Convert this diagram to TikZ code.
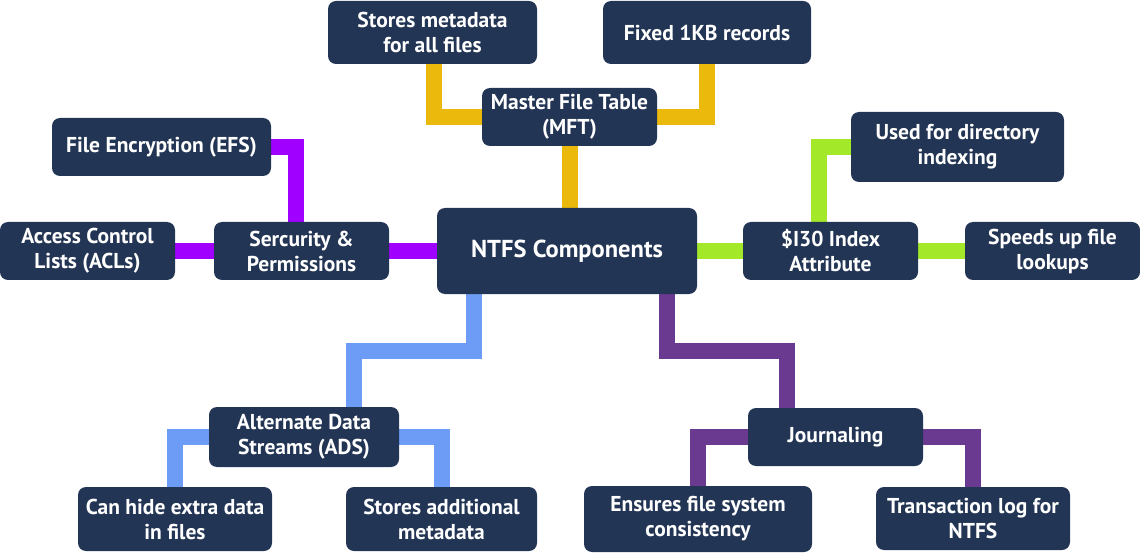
\documentclass[tikz,border=0pt]{standalone}
\usepackage{fontspec}
\setmainfont{PT Sans}
\usetikzlibrary{backgrounds}
\definecolor{navy}{HTML}{233554}
\definecolor{cyel}{HTML}{EAB90B}
\definecolor{cvio}{HTML}{A000FF}
\definecolor{cgrn}{HTML}{A4E82A}
\definecolor{cblu}{HTML}{6D9CF6}
\definecolor{cpur}{HTML}{6A3A91}
\begin{document}
\begin{tikzpicture}[x=1pt,y=-1pt,
  box/.style={fill=navy, rounded corners=8pt, text=white, align=center,
    font=\bfseries\fontsize{21.5}{25}\selectfont, inner sep=0pt,
    minimum width=#1},
  box/.default=175pt,
  conn/.style={line width=16pt, draw=#1}]
\useasboundingbox (0,0) rectangle (1140,553);
\node[box=209pt, minimum height=63pt] (stores) at (432.5,32.5) {Stores metadata\\for all files};
\node[box=208pt, minimum height=63pt] (fixed) at (707,32.5) {Fixed 1KB records};
\node[box, minimum height=58pt] (mft) at (569.5,117) {Master File Table\\(MFT)};
\node[box=260pt, minimum height=86pt, font=\bfseries\fontsize{24.5}{29}\selectfont] (ntfs) at (567,251) {NTFS Components};
\node[box, minimum height=58pt] (sec) at (301.5,251) {Sercurity \&\\Permissions};
\node[box, minimum height=58pt] (acl) at (87.5,251) {Access Control\\Lists (ACLs)};
\node[box=219pt, minimum height=58pt] (efs) at (161.5,147) {File Encryption (EFS)};
\node[box, minimum height=58pt] (i30) at (830.5,251) {\$I30 Index\\Attribute};
\node[box=213pt, minimum height=70pt] (dir) at (957.5,147) {Used for directory\\indexing};
\node[box, minimum height=58pt] (speed) at (1052.5,251) {Speeds up file\\lookups};
\node[box=190pt, minimum height=60pt] (ads) at (304,437) {Alternate Data\\Streams (ADS)};
\node[box=194pt, minimum height=64pt] (hide) at (175,519) {Can hide extra data\\in files};
\node[box=191pt, minimum height=64pt] (addm) at (441.5,519) {Stores additional\\metadata};
\node[box, minimum height=58pt] (journ) at (835.5,437) {Journaling};
\node[box=228pt, minimum height=66pt] (ens) at (698,519) {Ensures file system\\consistency};
\node[box=194pt, minimum height=63pt] (trans) at (973,518.5) {Transaction log for\\NTFS};
\begin{scope}[on background layer]
\draw[conn=cyel] ([xshift=1.5pt]stores.south) |- (mft.west);
\draw[conn=cyel] (fixed.south) |- (mft.east);
\draw[conn=cyel] (mft.south) -- (mft.south |- ntfs.north);
\draw[conn=cvio] (efs.east) -| ([xshift=-5.5pt]sec.north);
\draw[conn=cvio] (acl.east) -- (sec.west);
\draw[conn=cvio] (sec.east) -- (ntfs.west);
\draw[conn=cgrn] (ntfs.east) -- (i30.west);
\draw[conn=cgrn] (i30.east) -- (speed.west);
\draw[conn=cgrn] ([xshift=-11.5pt]i30.north) |- (dir.west);
\draw[conn=cblu] ([xshift=-93pt]ntfs.south) -- ++(0,57) -| ([xshift=50pt]ads.north);
\draw[conn=cblu] (ads.west) -| (hide.north);
\draw[conn=cblu] (ads.east) -| (addm.north);
\draw[conn=cpur] ([xshift=100pt]ntfs.south) -- ++(0,57) -| ([xshift=-48.5pt]journ.north);
\draw[conn=cpur] (journ.west) -| (ens.north);
\draw[conn=cpur] (journ.east) -| (trans.north);
\end{scope}
\end{tikzpicture}
\end{document}
